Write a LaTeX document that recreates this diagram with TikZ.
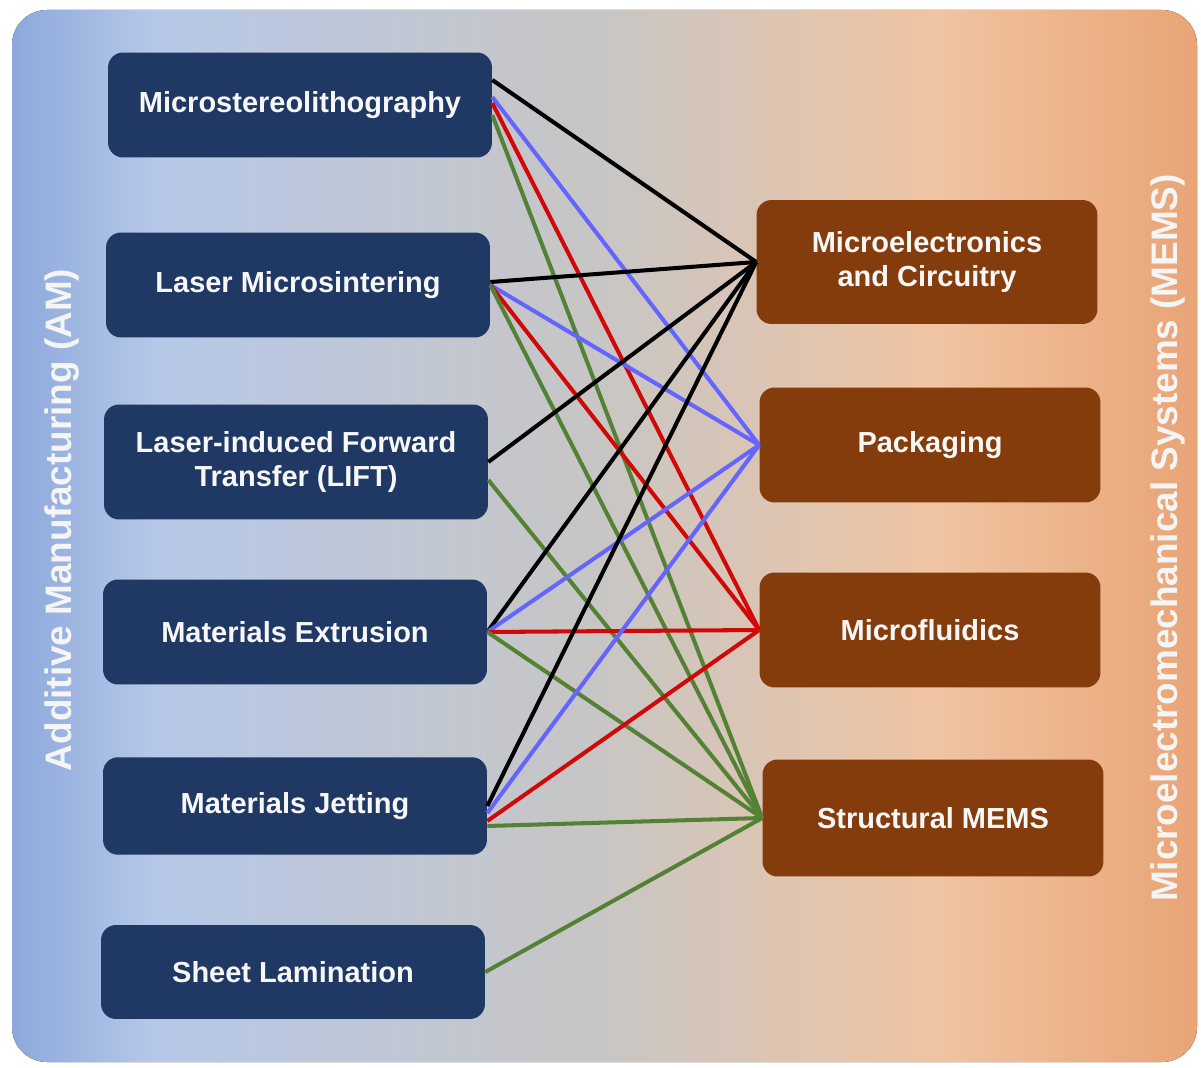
\documentclass[tikz,border=0pt]{standalone}
\usepackage{fontspec}
\setmainfont{Liberation Sans}
\usepackage{tikz}

\definecolor{amblue}{RGB}{31,56,100}
\definecolor{memsbrown}{RGB}{132,60,12}
\definecolor{lnblue}{RGB}{100,100,255}
\definecolor{lnred}{RGB}{208,8,8}
\definecolor{lngreen}{RGB}{84,130,53}
\definecolor{bgA}{RGB}{140,168,220}
\definecolor{bgB}{RGB}{182,200,232}
\definecolor{bgC}{RGB}{200,198,196}
\definecolor{bgD}{RGB}{240,196,162}
\definecolor{bgE}{RGB}{233,164,118}
\pgfdeclarehorizontalshading{bgshade}{100bp}{color(0bp)=(bgA); color(25bp)=(bgA);
  color(31bp)=(bgB); color(50bp)=(bgC); color(64bp)=(bgD); color(75bp)=(bgE); color(100bp)=(bgE)}

\tikzset{
  amnode/.style={fill=amblue, rounded corners=0.3cm, minimum width=7.68cm,
    minimum height=2.1cm, text=white!94!gray, align=center,
    font=\bfseries\fontsize{16.5}{19}\selectfont},
  memsnode/.style={amnode, fill=memsbrown, minimum width=6.82cm, minimum height=2.3cm},
  sidelabel/.style={rotate=90, text=white!92!gray, font=\bfseries\fontsize{21}{24}\selectfont},
  link/.style={line width=2.3pt}
}

\begin{document}
\begin{tikzpicture}[x=0.02cm, y=-0.02cm]
    \useasboundingbox (0,0) rectangle (1201,1068);
    \fill[shading=bgshade, rounded corners=0.7cm] (12,10) rectangle (1197,1062);

    % additive manufacturing
    \node(mst)[amnode] at (300,105) {Microstereolithography};
    \node(lms)[amnode] at (298,285) {Laser Microsintering};
    \node(lift)[amnode, minimum height=2.3cm] at (296,462) {Laser-induced Forward\\Transfer (LIFT)};
    \node(mex)[amnode] at (295,632) {Materials Extrusion};
    \node(mjt)[amnode, minimum height=1.95cm] at (295,806) {Materials Jetting};
    \node(shl)[amnode, minimum height=1.88cm] at (293,972) {Sheet Lamination};

    % MEMS
    \node(mec)[memsnode, minimum height=2.48cm] at (927,262) {Microelectronics\\and Circuitry};
    \node(pkg)[memsnode] at (930,445) {Packaging};
    \node(mfl)[memsnode] at (930,630) {Microfluidics};
    \node(smm)[memsnode, minimum height=2.34cm] at (933,818) {Structural MEMS};

    \node(am)[sidelabel] at (62,520) {Additive Manufacturing (AM)};
    \node(mems)[sidelabel] at (1168,538) {Microelectromechanical Systems (MEMS)};

    % links
    \draw[link, black] ([yshift=0.5cm]mst.east) -- (mec.west);
    \draw[link, lnblue] ([yshift=0.16cm]mst.east) -- (pkg.west);
    \draw[link, lnred] ([yshift=0.04cm]mst.east) -- (mfl.west);
    \draw[link, lngreen] ([yshift=-0.2cm]mst.east) -- (smm.west);

    \draw[link, black] ([yshift=0.06cm]lms.east) -- (mec.west);
    \draw[link, lnblue] (lms.east) -- (pkg.west);
    \draw[link, lnred] (lms.east) -- (mfl.west);
    \draw[link, lngreen] (lms.east) -- (smm.west);

    \draw[link, black] (lift.east) -- (mec.west);
    \draw[link, lngreen] ([yshift=-0.36cm]lift.east) -- (smm.west);

    \draw[link, black] (mex.east) -- (mec.west);
    \draw[link, lnblue] (mex.east) -- (pkg.west);
    \draw[link, lnred] (mex.east) -- (mfl.west);
    \draw[link, lngreen] (mex.east) -- (smm.west);

    \draw[link, black] (mjt.east) -- (mec.west);
    \draw[link, lnblue] ([yshift=-0.14cm]mjt.east) -- (pkg.west);
    \draw[link, lnred] ([yshift=-0.3cm]mjt.east) -- (mfl.west);
    \draw[link, lngreen] ([yshift=-0.4cm]mjt.east) -- (smm.west);

    \draw[link, lngreen] (shl.east) -- (smm.west);
\end{tikzpicture}
\end{document}
